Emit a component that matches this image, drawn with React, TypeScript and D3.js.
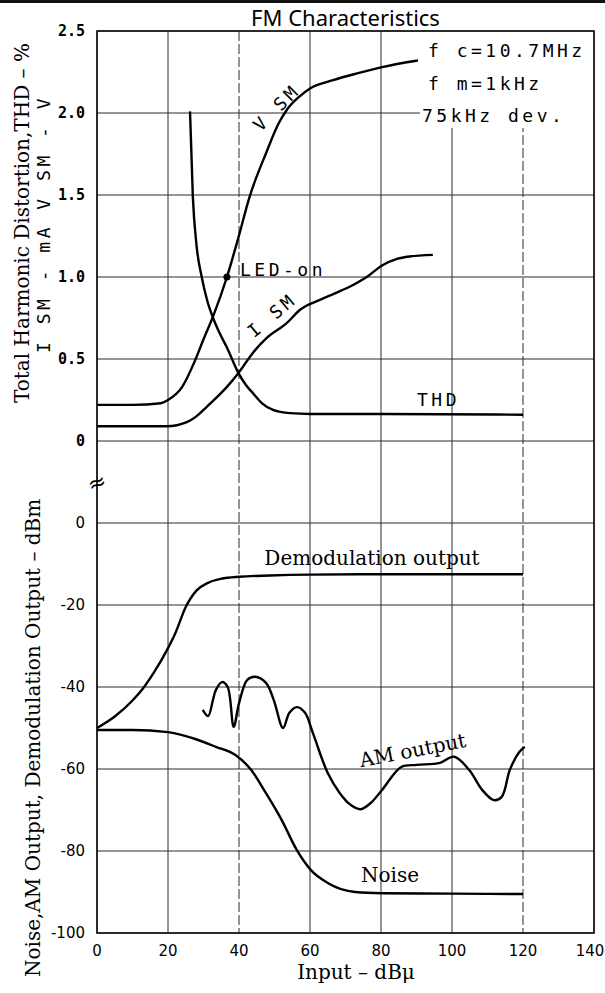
import React, { useEffect, useRef } from 'react';
import * as d3 from 'd3';

const WIDTH = 605;
const HEIGHT = 993;
// plot frame in page pixels
const FRAME = { left: 97, right: 594, top: 31, upperZero: 441, lowerZero: 523, bottom: 933 };

const SERIF = '"DejaVu Serif", "Liberation Serif", serif';
const MONO = '"DejaVu Sans Mono", monospace';
const SANS = '"DejaVu Sans", sans-serif';
const TITLE_FONT = '"Noto Sans", "Open Sans", sans-serif';

const xTicks = [0, 20, 40, 60, 80, 100, 120, 140];
const upperTicks = [0, 0.5, 1.0, 1.5, 2.0, 2.5];
const upperTickLabels = ['0', '0.5', '1.0', '1.5', '2.0', '2.5'];
const lowerTicks = [-100, -80, -60, -40, -20, 0];

type Pt = [number, number];

// upper panel: input dBu vs value
const vsm: Pt[] = [
  [0, 0.22], [10, 0.22], [18, 0.23], [20, 0.25], [24, 0.33], [27.6, 0.49], [30, 0.62],
  [32.7, 0.76], [36.6, 1.0], [39.7, 1.23], [43, 1.49], [47.9, 1.77], [51, 1.93],
  [53.5, 2.02], [57, 2.1], [60, 2.15], [66.5, 2.2], [73, 2.24], [80.3, 2.28], [90.4, 2.32],
];
const thd: Pt[] = [
  [26.2, 2.01], [27, 1.49], [28, 1.2], [29.5, 1.0], [31, 0.86], [32.7, 0.75], [34.5, 0.66],
  [36.6, 0.57], [39.7, 0.42], [42, 0.34], [44, 0.29], [46.5, 0.23], [49.6, 0.19],
  [54.4, 0.17], [60, 0.165], [80, 0.165], [120, 0.16],
];
const ism: Pt[] = [
  [0, 0.09], [10, 0.09], [19.7, 0.09], [25.3, 0.115], [28, 0.15], [31, 0.21], [36.6, 0.33],
  [39.7, 0.41], [44, 0.54], [47.9, 0.63], [53.5, 0.72], [57.2, 0.8], [62.8, 0.86], [67, 0.9],
  [72, 0.95], [76, 1.0], [80.3, 1.07], [84.5, 1.11], [88, 1.125], [94.6, 1.135],
];
const ledOn: Pt = [36.6, 1.0];

// lower panel: dBm
const demod: Pt[] = [
  [0, -50], [5, -47.2], [10, -43.3], [13, -40.3], [16, -36.5], [19.7, -31], [22, -27],
  [25, -20.5], [28, -16.5], [31.3, -14.6], [35, -13.6], [40, -13.1], [48.8, -12.8],
  [60, -12.6], [80, -12.5], [120, -12.5],
];
const noise: Pt[] = [
  [0, -50.5], [10, -50.5], [20, -51], [27, -52.5], [33.5, -54.6], [39, -56.6], [43.4, -60.2],
  [47.6, -65.9], [52, -72.4], [56.3, -79.8], [60.2, -84.6], [65, -87.8], [72.7, -90],
  [80.3, -90.3], [100, -90.4], [120, -90.5],
];
const amOutput: Pt[] = [
  [29.8, -45.6], [31.3, -47.1], [32.7, -43], [33.5, -40.7], [35.2, -38.8], [36.8, -40],
  [38.5, -49.7], [40, -44], [42.3, -38.3], [44.5, -37.5], [47.6, -39], [49.8, -43.2],
  [52.4, -50], [54.2, -46.3], [56.3, -44.9], [58.6, -46.3], [60.8, -51.2], [65, -61],
  [68.4, -65.9], [71.5, -68.8], [74.3, -69.8], [77.1, -68.3], [80.3, -65.1], [85.7, -59.5],
  [90.1, -59], [96.6, -58.5], [100.6, -57], [104.8, -60.2], [108.5, -65.1], [111.8, -67.6],
  [114, -66.8], [116.3, -60.2], [118.9, -55.9], [120.5, -54.6],
];

const conditions = ['f c=10.7MHz', 'f m=1kHz', '75kHz dev.'];

const App: React.FC = () => {
  const svgRef = useRef<SVGSVGElement>(null);

  useEffect(() => {
    const svg = d3.select(svgRef.current);
    svg.selectAll('*').remove();

    const x = d3.scaleLinear().domain([0, 140]).range([FRAME.left, FRAME.right]);
    const yUp = d3.scaleLinear().domain([0, 2.5]).range([FRAME.upperZero, FRAME.top]);
    const yLow = d3.scaleLinear().domain([-100, 0]).range([FRAME.bottom, FRAME.lowerZero]);

    svg.append('rect').attr('width', WIDTH).attr('height', HEIGHT).attr('fill', '#fff');
    // scanned page edge
    svg.append('rect').attr('x', 0).attr('y', 0).attr('width', WIDTH).attr('height', 3).attr('fill', '#111');

    const grid = svg.append('g').attr('stroke', '#2a2a2a').attr('stroke-width', 1);
    xTicks.forEach(t => {
      grid.append('line')
        .attr('x1', x(t)).attr('x2', x(t))
        .attr('y1', FRAME.top).attr('y2', FRAME.bottom)
        .attr('stroke-dasharray', t === 40 || t === 120 ? '10,3' : null);
    });
    upperTicks.forEach(t => {
      grid.append('line').attr('x1', FRAME.left).attr('x2', FRAME.right).attr('y1', yUp(t)).attr('y2', yUp(t));
    });
    lowerTicks.forEach(t => {
      grid.append('line').attr('x1', FRAME.left).attr('x2', FRAME.right).attr('y1', yLow(t)).attr('y2', yLow(t));
    });

    // conditions box blanks the grid under it
    svg.append('rect').attr('x', 420).attr('y', FRAME.top + 1).attr('width', FRAME.right - 421).attr('height', 96).attr('fill', '#fff');

    // frame
    svg.append('rect')
      .attr('x', FRAME.left).attr('y', FRAME.top)
      .attr('width', FRAME.right - FRAME.left).attr('height', FRAME.bottom - FRAME.top)
      .attr('fill', 'none').attr('stroke', '#111').attr('stroke-width', 1.6);

    // axis break
    svg.append('text')
      .attr('x', FRAME.left).attr('y', 490)
      .attr('text-anchor', 'middle')
      .attr('transform', `rotate(-20, ${FRAME.left}, 483)`)
      .style('font-family', SANS).style('font-size', '22px')
      .text('≈');

    // tick labels
    upperTicks.forEach((t, i) => {
      svg.append('text')
        .attr('x', 85).attr('y', yUp(t)).attr('dy', '0.36em')
        .attr('text-anchor', 'end')
        .style('font-family', MONO).style('font-size', '15px').style('font-weight', 'bold')
        .text(upperTickLabels[i]);
    });
    lowerTicks.forEach(t => {
      svg.append('text')
        .attr('x', 85).attr('y', yLow(t)).attr('dy', '0.36em')
        .attr('text-anchor', 'end')
        .style('font-family', SANS).style('font-size', '15px')
        .text(String(t));
    });
    xTicks.forEach(t => {
      svg.append('text')
        .attr('x', t === 140 ? x(t) - 4 : x(t)).attr('y', 956)
        .attr('text-anchor', 'middle')
        .style('font-family', SANS).style('font-size', '15px')
        .text(String(t));
    });

    // curves
    const upLine = d3.line<Pt>().x(d => x(d[0])).y(d => yUp(d[1])).curve(d3.curveMonotoneX);
    const lowLine = d3.line<Pt>().x(d => x(d[0])).y(d => yLow(d[1])).curve(d3.curveMonotoneX);
    const amLine = d3.line<Pt>().x(d => x(d[0])).y(d => yLow(d[1])).curve(d3.curveCatmullRom.alpha(0.5));

    const curves = svg.append('g').attr('fill', 'none').attr('stroke', '#000').attr('stroke-width', 2.4);
    [vsm, thd, ism].forEach(s => curves.append('path').attr('d', upLine(s)));
    [demod, noise].forEach(s => curves.append('path').attr('d', lowLine(s)));
    curves.append('path').attr('d', amLine(amOutput));

    svg.append('circle').attr('cx', x(ledOn[0])).attr('cy', yUp(ledOn[1])).attr('r', 3.5).attr('fill', '#000');

    // typewriter labels
    const mono = (txt: string, px: number, py: number, rot = 0, anchor = 'start') =>
      svg.append('text')
        .attr('x', px).attr('y', py)
        .attr('text-anchor', anchor)
        .attr('transform', rot ? `rotate(${rot}, ${px}, ${py})` : null)
        .style('font-family', MONO).style('font-size', '18px').style('letter-spacing', '3.5px')
        .text(txt);

    mono('LED-on', 240, 276);
    mono('THD', 417, 406);
    mono('V SM', 281, 112, -45, 'middle');
    mono('I SM', 276, 320, -40, 'middle');
    conditions.forEach((c, i) => mono(c, i === 2 ? 422 : 428, 57 + i * 32.5));

    // serif labels
    const serif = (txt: string, px: number, py: number, size: number, rot = 0, anchor = 'middle') =>
      svg.append('text')
        .attr('x', px).attr('y', py)
        .attr('text-anchor', anchor)
        .attr('transform', rot ? `rotate(${rot}, ${px}, ${py})` : null)
        .style('font-family', SERIF).style('font-size', `${size}px`)
        .text(txt);

    serif('Demodulation output', 372, 565, 20);
    serif('AM output', 414, 757, 20, -11);
    serif('Noise', 390, 882, 20);
    serif('Input – dBμ', 356, 979, 20);
    serif('Total Harmonic Distortion,THD – %', 29, 403, 20, -90, 'start');
    serif('Noise,AM Output, Demodulation Output – dBm', 40, 977, 20, -90, 'start');

    svg.append('text')
      .attr('x', 50).attr('y', 353)
      .attr('transform', 'rotate(-90, 50, 353)')
      .style('font-family', MONO).style('font-size', '18px').style('letter-spacing', '3.5px')
      .text('I SM - mA V SM - V');

    svg.append('text')
      .attr('x', (FRAME.left + FRAME.right) / 2).attr('y', 26)
      .attr('text-anchor', 'middle')
      .style('font-family', TITLE_FONT).style('font-size', '22px')
      .text('FM Characteristics');
  }, []);

  return (
    <svg
      ref={svgRef}
      width={WIDTH}
      height={HEIGHT}
      style={{ position: 'absolute', left: 0, top: 0, display: 'block' }}
    />
  );
};

export default App;
